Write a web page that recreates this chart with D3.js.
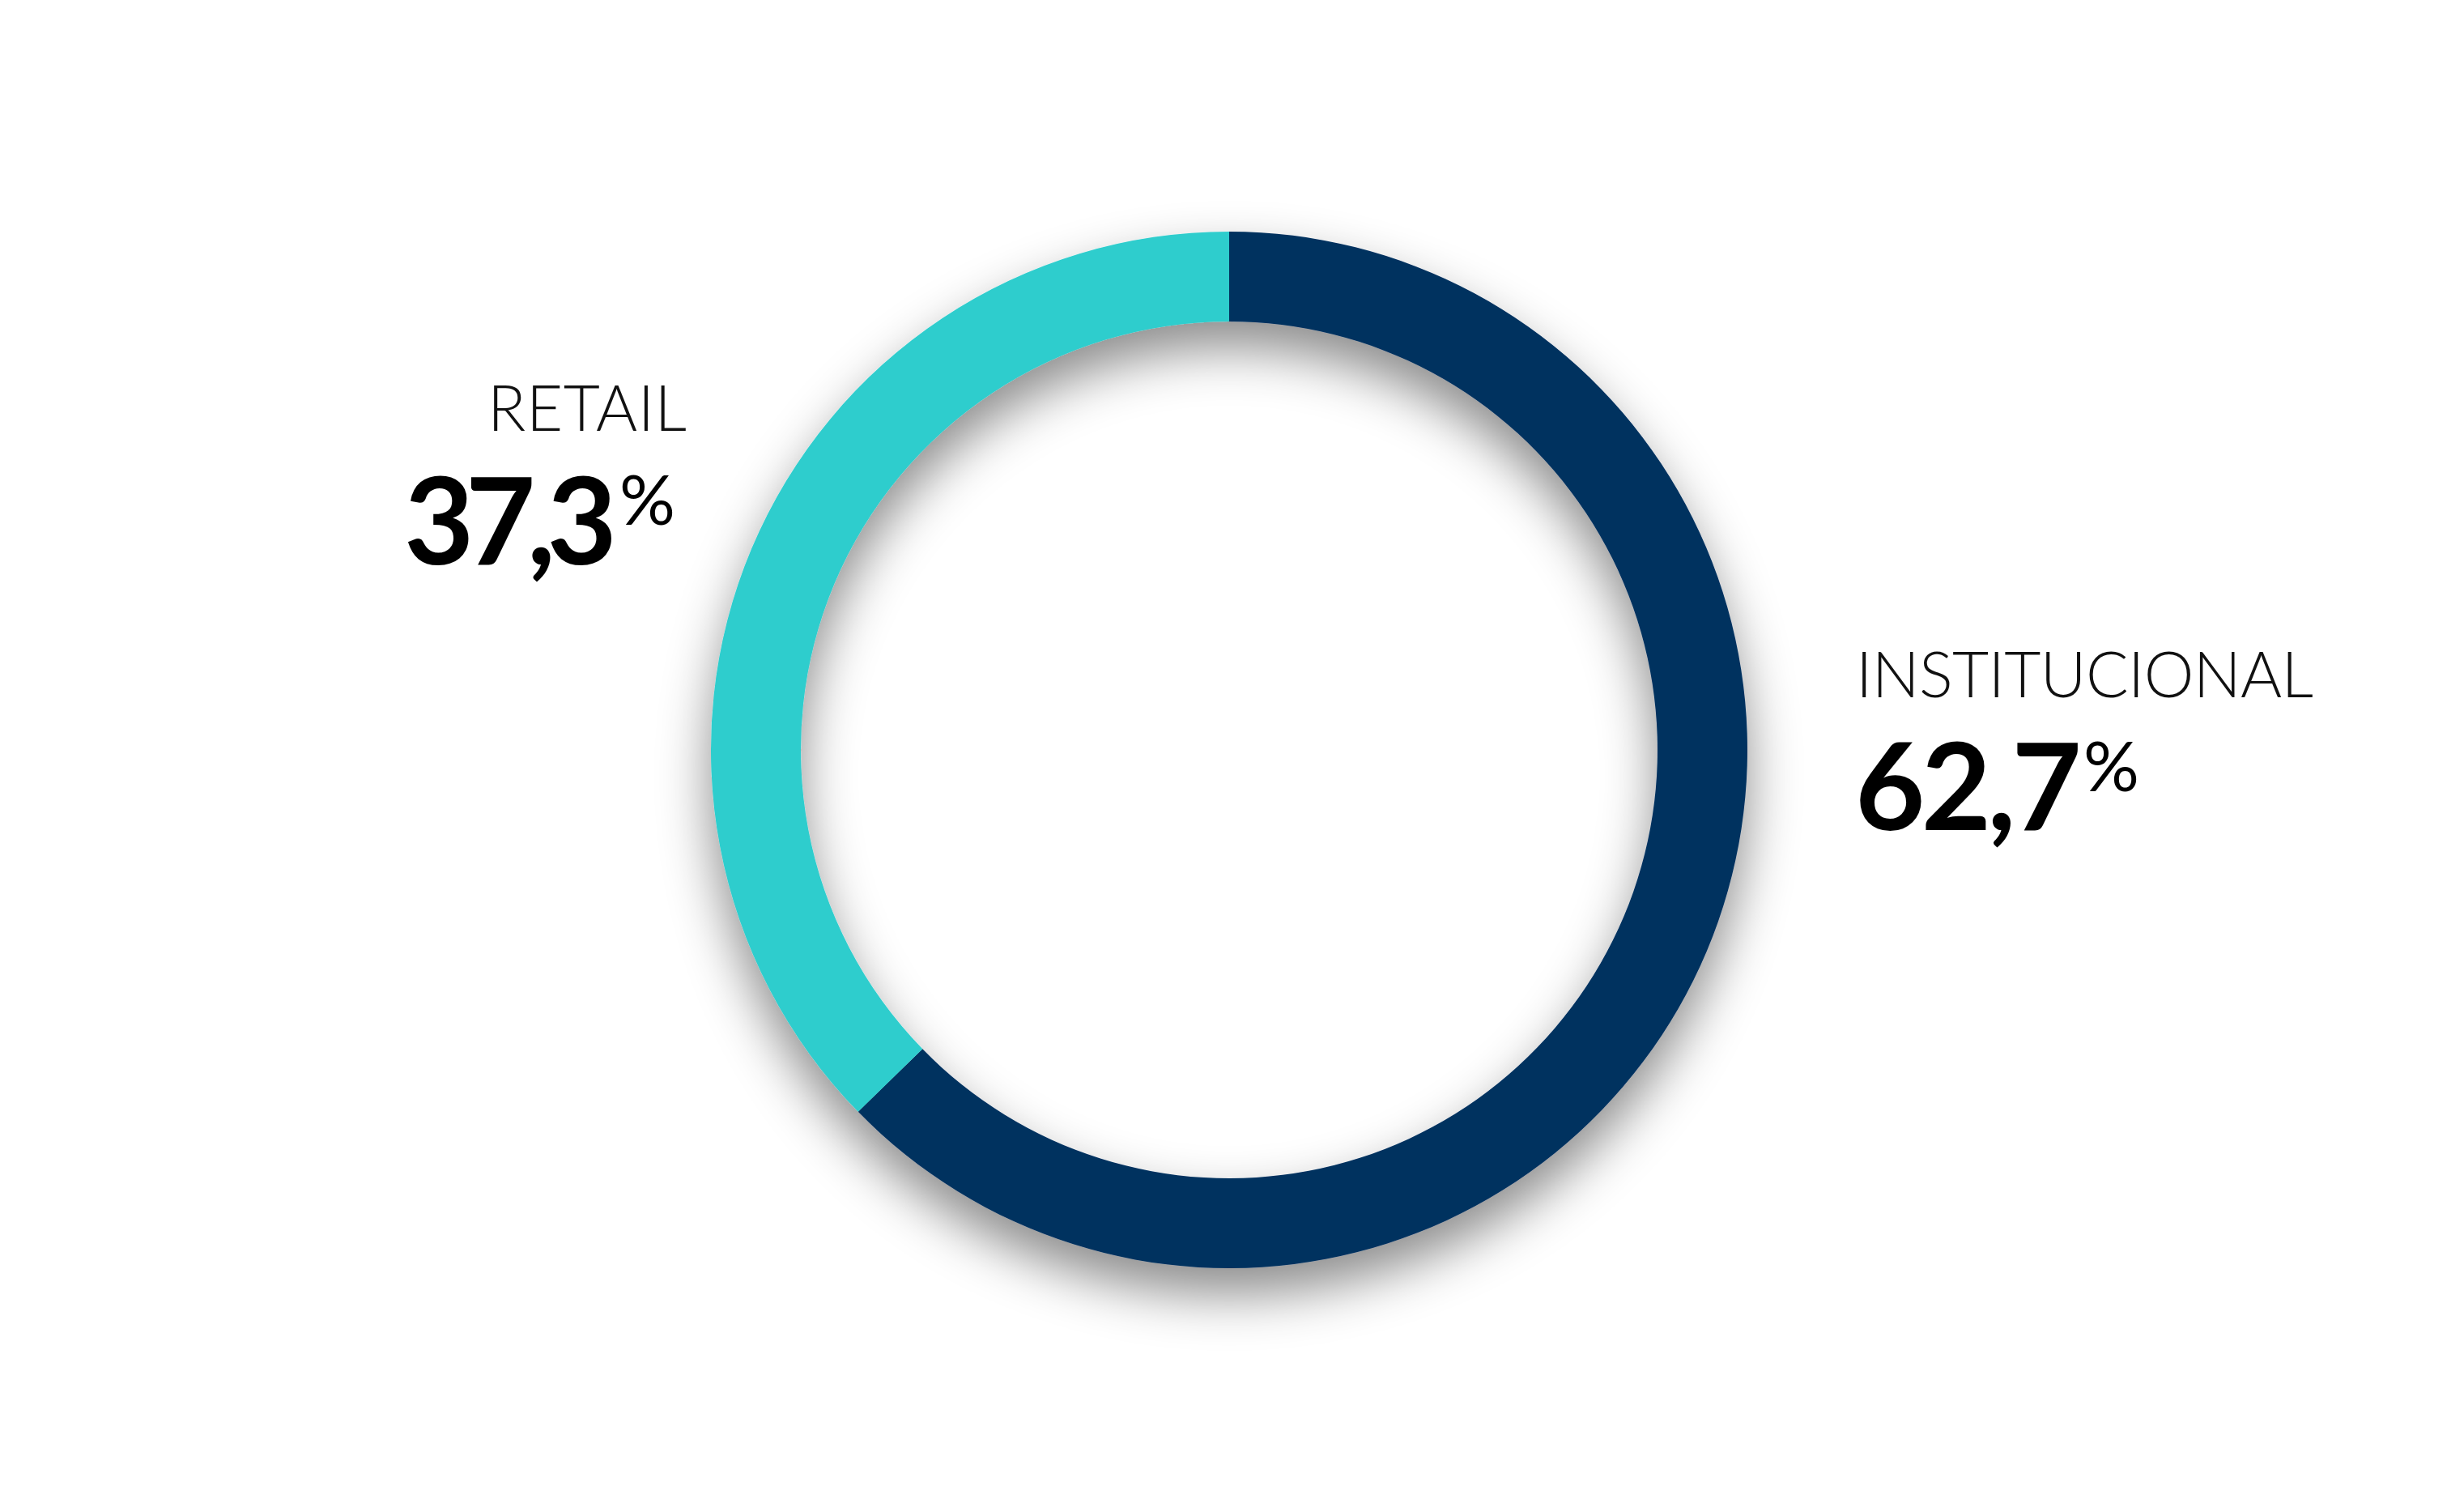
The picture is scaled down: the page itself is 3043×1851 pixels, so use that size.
<!DOCTYPE html>
<html>
<head>
<meta charset="utf-8">
<script src="https://cdn.jsdelivr.net/npm/d3@7"></script>
<style>
html,body{margin:0;padding:0;background:#ffffff;}
svg{display:block;}
</style>
</head>
<body>
<svg id="chart" width="3043" height="1851"></svg>
<script>
const categories = ["INSTITUCIONAL", "RETAIL"];
const values = [62.7, 37.3];
const colors = ["#04315F", "#2DCDCD"];

const W = 3043, H = 1851;
const cx = 1518, cy = 926;
const outerR = 640, innerR = 529;

const svg = d3.select("#chart");
svg.append("rect").attr("width", W).attr("height", H).attr("fill", "#ffffff");

const defs = svg.append("defs");
const f = defs.append("filter").attr("id", "shadow")
  .attr("x", "-25%").attr("y", "-25%").attr("width", "150%").attr("height", "150%");
f.append("feDropShadow").attr("dx", 0).attr("dy", 32).attr("stdDeviation", 32)
  .attr("flood-color", "#000").attr("flood-opacity", 0.45);

const pie = d3.pie().sort(null).value(d => d.value);
const arc = d3.arc().innerRadius(innerR).outerRadius(outerR);
const data = categories.map((c, i) => ({ name: c, value: values[i], color: colors[i] }));

const g = svg.append("g").attr("transform", `translate(${cx},${cy})`).attr("filter", "url(#shadow)");
g.selectAll("path").data(pie(data)).join("path")
  .attr("d", arc)
  .attr("fill", d => d.data.color);

const fmt = v => d3.format(".1f")(v).replace(".", ",");

// label layout (left edge x, baseline y, target advance width)
const labelPos = {
  "RETAIL": { nameX: 602, nameY: 532, nameLen: 246,
              valX: 499, valY: 697, valLen: 263, pctX: 765, pctY: 648 },
  "INSTITUCIONAL": { nameX: 2292, nameY: 861, nameLen: 565,
              valX: 2291, valY: 1025, valLen: 280, pctX: 2573, pctY: 977 }
};

const FONT = "Lato, 'Open Sans', sans-serif";

function fitText(sel, target) {
  const str = sel.text();
  const natural = sel.node().getComputedTextLength();
  const ls = (target - natural) / Math.max(1, str.length - 1);
  sel.attr("letter-spacing", ls.toFixed(2));
}

document.fonts.ready.then(() => {
  data.forEach(d => {
    const p = labelPos[d.name];
    const n = svg.append("text")
      .attr("x", p.nameX).attr("y", p.nameY)
      .attr("font-family", FONT)
      .attr("font-weight", 300)
      .attr("font-size", 78)
      .attr("fill", "#111")
      .text(d.name);
    fitText(n, p.nameLen);
    const v = svg.append("text")
      .attr("x", p.valX).attr("y", p.valY)
      .attr("font-family", FONT)
      .attr("font-weight", 700)
      .attr("font-size", 149)
      .attr("fill", "#000")
      .text(fmt(d.value));
    fitText(v, p.valLen);
    svg.append("text")
      .attr("x", p.pctX).attr("y", p.pctY)
      .attr("font-family", FONT)
      .attr("font-weight", 400)
      .attr("font-size", 86)
      .attr("fill", "#000")
      .text("%");
  });
});
</script>
</body>
</html>
